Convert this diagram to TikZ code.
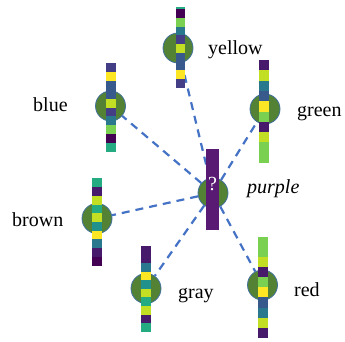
\documentclass[tikz,border=0pt]{standalone}
\usepackage{fontspec}
\setmainfont{Liberation Serif}
\definecolor{vdp}{HTML}{440154}
\definecolor{vpu}{HTML}{481A6C}
\definecolor{vin}{HTML}{433E85}
\definecolor{vbl}{HTML}{38598C}
\definecolor{vte}{HTML}{2A788E}
\definecolor{vtg}{HTML}{21918C}
\definecolor{vgt}{HTML}{25AB82}
\definecolor{vlg}{HTML}{7AD151}
\definecolor{vli}{HTML}{C2DF23}
\definecolor{vye}{HTML}{FDE725}
\definecolor{cfill}{HTML}{548235}
\definecolor{cline}{HTML}{41719C}
\definecolor{edgec}{HTML}{4472C4}
\definecolor{barc}{HTML}{581A72}
\newcommand\mystrip[5]{%
  \foreach \c [count=\i from 0] in {#5} {\fill[\c] (#1,#2+\i*#3) rectangle ++(#4,#3);}}
\begin{document}
\begin{tikzpicture}[x=1pt,y=-1pt,
  blob/.style={circle,fill=cfill,draw=cline,line width=0.8pt,minimum size=30pt,inner sep=0},
  edge/.style={draw=edgec,line width=2.2pt,dash pattern=on 8pt off 6pt},
  lbl/.style={anchor=base west,inner sep=0,font=\fontsize{20}{24}\selectfont}]
\useasboundingbox (0,0) rectangle (345,341);
% circles
\node[blob] (yc) at (178,48) {};
\node[blob] (bc) at (110.5,106) {};
\node[blob] (gc) at (265,109) {};
\node[blob] (pc) at (213,193) {};
\node[blob] (brc) at (97,218.5) {};
\node[blob] (grc) at (146,288.5) {};
\node[blob] (rc) at (262.5,285) {};
% connectors
\draw[edge] (pc) -- (yc);
\draw[edge] (pc) -- (bc);
\draw[edge] (pc) -- (gc);
\draw[edge] (pc) -- (brc);
\draw[edge] (pc) -- (grc);
\draw[edge] (pc) -- (rc);
% strips
\fill[vgt] (176,6.7) rectangle (185,9.3);
\mystrip{176}{9.3}{8.7}{9}{vdp,vlg,vte,vin,vli,vbl,vbl,vye,vin}
\mystrip{106}{63.3}{8.84}{10}{vin,vye,vbl,vbl,vli,vin,vte,vlg,vdp,vgt}
\mystrip{259}{60}{10.3}{10}{vpu,vli,vte,vbl,vye,vlg,vpu,vli,vlg,vlg}
\mystrip{92}{178.3}{8.74}{10}{vgt,vpu,vli,vgt,vli,vtg,vye,vte,vpu,vdp}
\mystrip{141}{246}{8.57}{10}{vpu,vpu,vte,vye,vtg,vli,vgt,vli,vpu,vgt}
\mystrip{258}{236.7}{10.13}{10}{vlg,vlg,vli,vpu,vlg,vye,vbl,vte,vli,vpu}
\fill[barc] (206,149) rectangle (219,230);
\node[anchor=base,inner sep=0,text=white,font=\fontsize{20}{24}\selectfont] (q) at (212.5,190) {?};
% labels
\node[lbl] (ly) at (208,54) {yellow};
\node[lbl] (lb) at (33,111.5) {blue};
\node[lbl] (lg) at (297,116) {green};
\node[lbl] (lp) at (247,193) {\itshape purple};
\node[lbl] (lbr) at (12,226) {brown};
\node[lbl] (lgr) at (178,298) {gray};
\node[lbl] (lr) at (294,296) {red};
\end{tikzpicture}
\end{document}
